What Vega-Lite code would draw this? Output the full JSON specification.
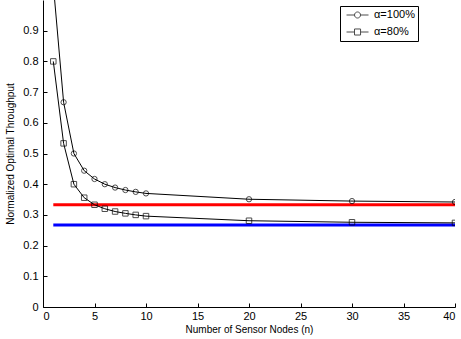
{
  "$schema": "https://vega.github.io/schema/vega-lite/v6.json",
  "autosize": {"type": "none"},
  "padding": {"left": 43, "top": 0, "right": 6, "bottom": 32},
  "width": 412,
  "height": 307,
  "background": "white",
  "config": {
    "view": {"stroke": null},
    "font": "Liberation Sans",
    "axis": {
      "domainColor": "black", "tickColor": "black", "labelColor": "black", "titleColor": "black",
      "labelFont": "Liberation Sans", "titleFont": "Liberation Sans",
      "labelFontSize": 11, "titleFontSize": 10, "titleFontWeight": "normal",
      "grid": false, "tickSize": -4, "domainWidth": 1, "tickWidth": 1, "labelOverlap": false
    }
  },
  "datasets": {
    "curves": [
      {"series": "α=100%", "n": 1, "value": 1.05},
      {"series": "α=100%", "n": 2, "value": 0.667},
      {"series": "α=100%", "n": 3, "value": 0.5},
      {"series": "α=100%", "n": 4, "value": 0.444},
      {"series": "α=100%", "n": 5, "value": 0.417},
      {"series": "α=100%", "n": 6, "value": 0.4},
      {"series": "α=100%", "n": 7, "value": 0.389},
      {"series": "α=100%", "n": 8, "value": 0.381},
      {"series": "α=100%", "n": 9, "value": 0.375},
      {"series": "α=100%", "n": 10, "value": 0.37},
      {"series": "α=100%", "n": 20, "value": 0.351},
      {"series": "α=100%", "n": 30, "value": 0.345},
      {"series": "α=100%", "n": 40, "value": 0.342},
      {"series": "α=80%", "n": 1, "value": 0.8},
      {"series": "α=80%", "n": 2, "value": 0.533},
      {"series": "α=80%", "n": 3, "value": 0.4},
      {"series": "α=80%", "n": 4, "value": 0.356},
      {"series": "α=80%", "n": 5, "value": 0.333},
      {"series": "α=80%", "n": 6, "value": 0.32},
      {"series": "α=80%", "n": 7, "value": 0.311},
      {"series": "α=80%", "n": 8, "value": 0.305},
      {"series": "α=80%", "n": 9, "value": 0.3},
      {"series": "α=80%", "n": 10, "value": 0.296},
      {"series": "α=80%", "n": 20, "value": 0.281},
      {"series": "α=80%", "n": 30, "value": 0.276},
      {"series": "α=80%", "n": 40, "value": 0.274}
    ],
    "bounds": [
      {"bound": "b100", "x1": 1, "x2": 40, "y": 0.3333},
      {"bound": "b80", "x1": 1, "x2": 40, "y": 0.2667}
    ]
  },
  "layer": [
    {
      "data": {"name": "bounds"},
      "mark": {"type": "rule", "strokeWidth": 3},
      "encoding": {
        "x": {"field": "x1", "type": "quantitative", "scale": {"domain": [0, 40], "nice": false},
              "axis": {"values": [0,5,10,15,20,25,30,35,40], "title": "Number of Sensor Nodes (n)", "labelPadding": 7, "titlePadding": 3}},
        "x2": {"field": "x2"},
        "y": {"field": "y", "type": "quantitative", "scale": {"domain": [0, 1], "nice": false},
              "axis": {"values": [0,0.1,0.2,0.3,0.4,0.5,0.6,0.7,0.8,0.9], "tickCount": 10, "labelExpr": "datum.value == 0 ? '0' : format(datum.value, '.1f')", "title": "Normalized Optimal Throughput", "labelPadding": 9, "titlePadding": 7}},
        "color": {"field": "bound", "type": "nominal", "scale": {"domain": ["b100", "b80"], "range": ["#ff0000", "#0000ff"]}, "legend": null}
      }
    },
    {
      "data": {"name": "curves"},
      "mark": {"type": "line", "color": "black", "strokeWidth": 1, "clip": true},
      "encoding": {
        "x": {"field": "n", "type": "quantitative"},
        "y": {"field": "value", "type": "quantitative"},
        "detail": {"field": "series", "type": "nominal"}
      }
    },
    {
      "data": {"name": "curves"},
      "transform": [{"filter": "datum.series == 'α=100%'"}],
      "mark": {"type": "point", "shape": "circle", "color": "black", "filled": false, "strokeWidth": 1, "size": 28, "clip": true},
      "encoding": {
        "x": {"field": "n", "type": "quantitative"},
        "y": {"field": "value", "type": "quantitative"}
      }
    },
    {
      "data": {"name": "curves"},
      "transform": [{"filter": "datum.series == 'α=80%'"}],
      "mark": {"type": "point", "shape": "square", "color": "black", "filled": false, "strokeWidth": 1, "size": 30, "clip": true},
      "encoding": {
        "x": {"field": "n", "type": "quantitative"},
        "y": {"field": "value", "type": "quantitative"}
      }
    },
    {
      "data": {"name": "curves"},
      "transform": [{"filter": "datum.n < 0"}],
      "mark": {"type": "point", "color": "black", "filled": false, "strokeWidth": 1},
      "encoding": {
        "x": {"field": "n", "type": "quantitative"},
        "y": {"field": "value", "type": "quantitative"},
        "shape": {
          "field": "series", "type": "nominal",
          "scale": {"domain": ["α=100%", "α=80%"], "range": [
            "M-0.45,0H1M2.1,0H3.55M1,0A0.55,0.55 0 1,1 2.1,0A0.55,0.55 0 1,1 1,0Z",
            "M-0.45,0H1M2.1,0H3.55M1,-0.55H2.1V0.55H1Z"
          ]},
          "legend": {
            "title": null, "orient": "none", "legendX": 297, "legendY": 6,
            "padding": 3, "strokeColor": "black", "fillColor": "white",
            "symbolSize": 121, "symbolStrokeWidth": 1, "symbolStrokeColor": "black",
            "symbolFillColor": "transparent",
            "labelFont": "Liberation Sans", "labelFontSize": 11, "labelColor": "black",
            "labelOffset": 19, "rowPadding": 5,
            "labelExpr": "datum.label + '\u00a0\u00a0\u00a0\u00a0\u00a0\u00a0'"
          }
        }
      }
    }
  ]
}
